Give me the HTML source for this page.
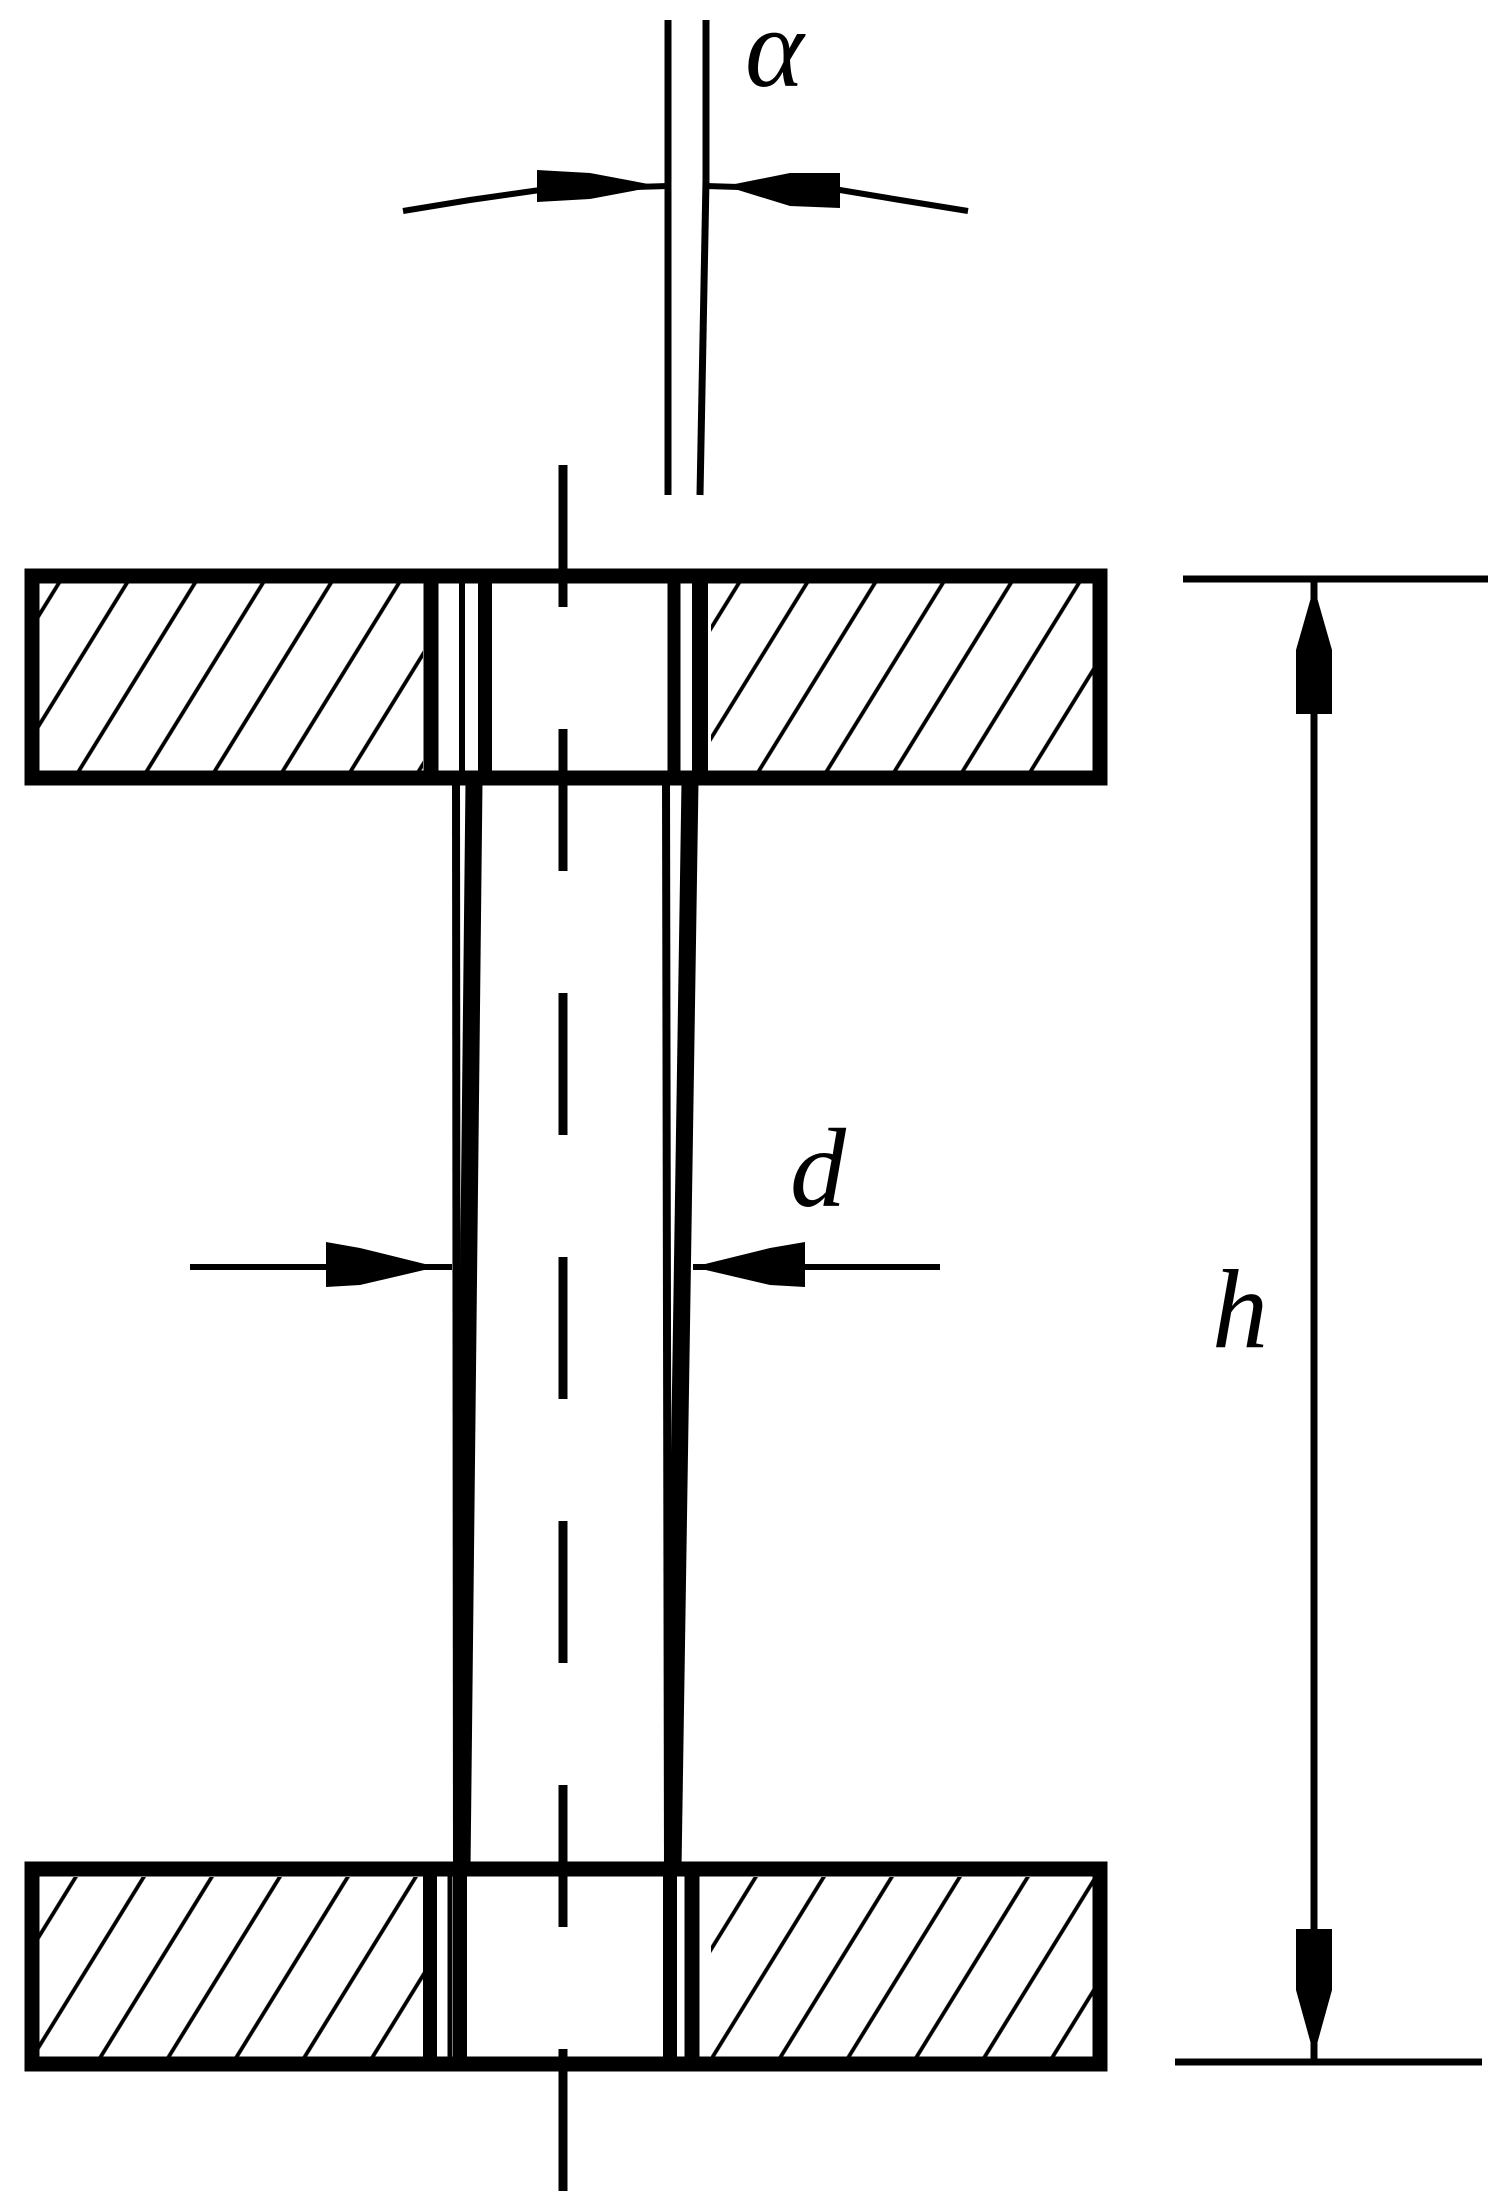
<!DOCTYPE html>
<html><head><meta charset="utf-8"><style>html,body{margin:0;padding:0;background:#fff}svg{display:block}</style></head>
<body>
<svg width="1500" height="2210" viewBox="0 0 1500 2210" xmlns="http://www.w3.org/2000/svg">
<defs>
<clipPath id="hl1"><rect x="36" y="583" width="387" height="188"/></clipPath>
<clipPath id="hr1"><rect x="711" y="583" width="382" height="188"/></clipPath>
<clipPath id="hl2"><rect x="36" y="1877" width="387" height="180"/></clipPath>
<clipPath id="hr2"><rect x="711" y="1877" width="382" height="180"/></clipPath>
<pattern id="hat" width="68" height="68" patternUnits="userSpaceOnUse" patternTransform="skewX(-31.7)">
<line x1="11" y1="-5" x2="11" y2="73" stroke="#000" stroke-width="4.5"/>
</pattern>
</defs>
<g clip-path="url(#hl1)"><rect x="0" y="560" width="500" height="240" fill="url(#hat)"/></g>
<g clip-path="url(#hr1)"><rect x="690" y="560" width="420" height="240" fill="url(#hat)"/></g>
<g clip-path="url(#hl2)"><rect x="0" y="1850" width="500" height="240" fill="url(#hat)"/></g>
<g clip-path="url(#hr2)"><rect x="690" y="1850" width="420" height="240" fill="url(#hat)"/></g>
<g fill="none" stroke="#000">
<rect x="32" y="576" width="1068" height="202" stroke-width="15"/>
<rect x="32" y="1869" width="1068" height="195" stroke-width="15"/>
<line x1="431" y1="576" x2="431" y2="785" stroke-width="15"/>
<line x1="462" y1="576" x2="462" y2="785" stroke-width="6"/>
<line x1="485" y1="576" x2="485" y2="785" stroke-width="14"/>
<line x1="674" y1="576" x2="674" y2="785" stroke-width="13"/>
<line x1="700" y1="576" x2="700" y2="785" stroke-width="16"/>
<line x1="430" y1="1869" x2="430" y2="2064" stroke-width="14"/>
<line x1="450" y1="1869" x2="450" y2="2064" stroke-width="5"/>
<line x1="460" y1="1869" x2="460" y2="2064" stroke-width="14"/>
<line x1="670" y1="1869" x2="670" y2="2064" stroke-width="14"/>
<line x1="692" y1="1869" x2="692" y2="2064" stroke-width="15"/>
<line x1="456" y1="782" x2="457" y2="1869" stroke-width="8"/>
<line x1="474" y1="782" x2="462" y2="1869" stroke-width="17"/>
<line x1="666" y1="782" x2="668" y2="1869" stroke-width="8"/>
<line x1="690" y1="782" x2="673" y2="1869" stroke-width="17"/>
<line x1="563" y1="465" x2="563" y2="2197" stroke-width="9" stroke-dasharray="142 122"/>
<line x1="668" y1="20" x2="668" y2="495" stroke-width="7"/>
<line x1="706" y1="20" x2="706" y2="180" stroke-width="7"/>
<line x1="706" y1="180" x2="700" y2="495" stroke-width="7"/>
<polyline points="403,211 470,200 540,190 668,186" stroke-width="6"/>
<polyline points="706,186 840,190 900,200 968,211" stroke-width="6"/>
<line x1="190" y1="1267" x2="452" y2="1267" stroke-width="6"/>
<line x1="693" y1="1267" x2="940" y2="1267" stroke-width="6"/>
<line x1="1183" y1="579" x2="1488" y2="579" stroke-width="7"/>
<line x1="1175" y1="2062" x2="1482" y2="2062" stroke-width="7"/>
<line x1="1314" y1="579" x2="1314" y2="2062" stroke-width="7"/>
</g>
<g fill="#000">
<polygon points="537,170 590,173 659,186 590,199 537,202"/>
<polygon points="725,186 790,173 840,173 840,208 790,206"/>
<polygon points="326,1242 360,1248 437,1267 360,1285 326,1287"/>
<polygon points="693,1267 770,1248 805,1242 805,1287 770,1285"/>
<polygon points="1314,587 1332,650 1332,714 1296,714 1296,650"/>
<polygon points="1296,1929 1332,1929 1332,1990 1314,2055 1296,1990"/>
</g>
<g font-family="'Liberation Serif', serif" font-style="italic" font-size="112" fill="#000">
<text x="745" y="86">α</text>
<text x="790" y="1206">d</text>
<text x="1212" y="1347">h</text>
</g>
</svg>
</body></html>
